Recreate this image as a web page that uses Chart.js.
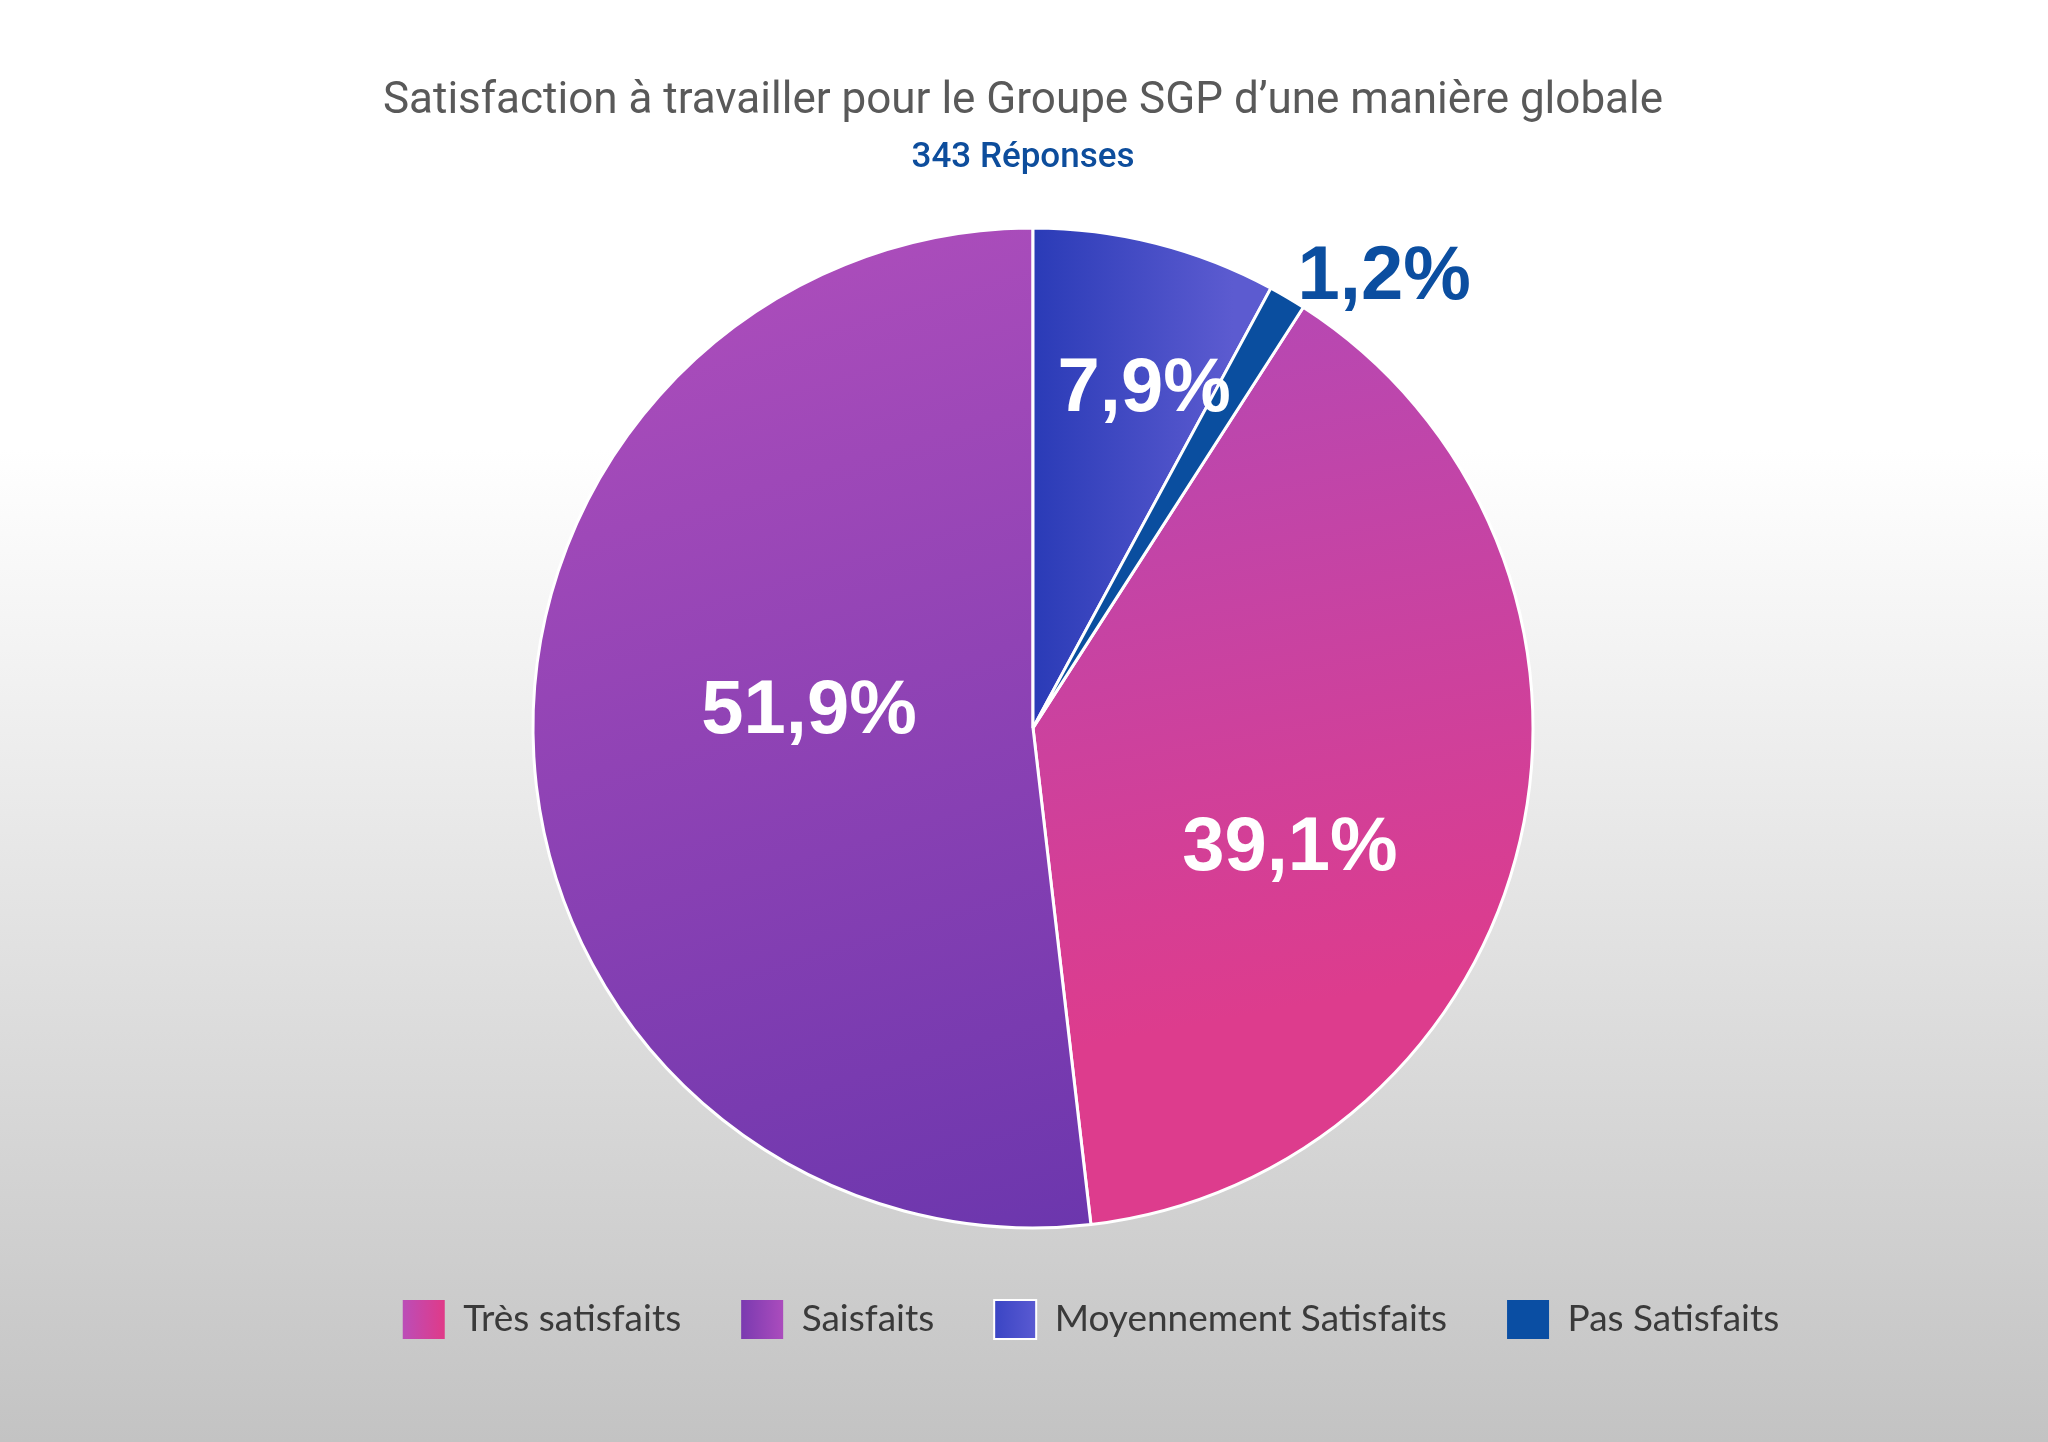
<!DOCTYPE html>
<html lang="fr">
<head>
<meta charset="utf-8">
<title>Satisfaction Groupe SGP</title>
<script src="https://cdn.jsdelivr.net/npm/chart.js@4.4.1/dist/chart.umd.min.js"></script>
<style>
  html, body { margin: 0; padding: 0; }
  body {
    width: 2048px; height: 1442px; overflow: hidden;
    background: linear-gradient(to bottom, #ffffff 0px, #ffffff 450px, #c3c3c3 1442px);
  }
  canvas { display: block; }
</style>
</head>
<body>
<canvas id="myChart" width="2048" height="1442"></canvas>
<script>
// données
var labels = ['Très satisfaits', 'Saisfaits', 'Moyennement Satisfaits', 'Pas Satisfaits'];
var values = [39.1, 51.9, 7.9, 1.2];
var nbReponses = 343;

// style
var R = 500;
var labelColors = ['#ffffff', '#ffffff', '#ffffff', '#0b4ea0'];
var labelPlace = [{r: 0.563, da: 11.1}, {r: 0.45, da: 8.9}, {r: 0.723, da: 3.7}, {r: 1.152, da: 7.0}];
var legendStops = [['#bb4db8', '#e03a88'], ['#7a3ab0', '#ab4cbd'], ['#3a45c4', '#5a5ad2'], ['#0a4ea3', '#0a4ea3']];
var legendBorder = [0, 0, 2, 0];

function fmt(v) { return v.toFixed(1).replace('.', ',') + '%'; }

var total = values.reduce(function(a, b) { return a + b; }, 0);
// la part "Très satisfaits" commence après Moyennement + Pas
var rot = (values[2] + values[3]) / total * 360;

function sliceColor(c) {
  var chart = c.chart, area = chart.chartArea;
  var flat = ['#d0409c', '#9042b2', '#4a4ac6', '#0a4e9f'];
  if (!area) return flat[c.dataIndex];
  var cx = (area.left + area.right) / 2, cy = (area.top + area.bottom) / 2;
  var g;
  switch (c.dataIndex) {
    case 0:
      g = chart.ctx.createLinearGradient(cx, cy - R, cx + 0.3 * R, cy + 0.6 * R);
      g.addColorStop(0, '#b04ab9'); g.addColorStop(1, '#dd3c8d');
      return g;
    case 1:
      g = chart.ctx.createLinearGradient(cx - 0.4 * R, cy - R, cx + 0.2 * R, cy + R);
      g.addColorStop(0, '#ac4dbb'); g.addColorStop(1, '#6b36ad');
      return g;
    case 2:
      g = chart.ctx.createLinearGradient(cx, 0, cx + 0.4 * R, 0);
      g.addColorStop(0, '#2a3bb7'); g.addColorStop(1, '#5c5bd0');
      return g;
    default:
      return '#0a4e9f';
  }
}

var pieLabels = {
  id: 'pieLabels',
  afterLayout: function(chart) {
    // petits décalages horizontaux des blocs de texte
    chart.boxes.forEach(function(b) {
      if (b === chart.legend) { b.left += 58; b.right += 58; }
      else if (b.position === 'top') { b.left -= 10; b.right -= 10; }
    });
  },
  beforeDraw: function(chart) {
    var lg = chart.legend;
    if (!lg || !lg.legendHitBoxes) return;
    lg.legendItems.forEach(function(it, i) {
      var hb = lg.legendHitBoxes[i];
      var g = chart.ctx.createLinearGradient(hb.left, 0, hb.left + 42, 0);
      g.addColorStop(0, legendStops[i][0]);
      g.addColorStop(1, legendStops[i][1]);
      it.fillStyle = g;
    });
  },
  afterDatasetsDraw: function(chart) {
    var ctx = chart.ctx;
    var size = 76;
    ctx.save();
    ctx.font = 'bold ' + size + 'px "Liberation Sans", Arial, sans-serif';
    ctx.textAlign = 'center';
    ctx.textBaseline = 'alphabetic';
    chart.getDatasetMeta(0).data.forEach(function(arc, i) {
      var p = arc.getProps(['x', 'y', 'startAngle', 'endAngle', 'outerRadius'], true);
      var a = (p.startAngle + p.endAngle) / 2 + labelPlace[i].da * Math.PI / 180;
      var r = p.outerRadius * labelPlace[i].r;
      ctx.fillStyle = labelColors[i];
      ctx.fillText(fmt(values[i]), p.x + Math.cos(a) * r, p.y + Math.sin(a) * r + 0.716 * size / 2);
    });
    ctx.restore();
  }
};

var ctx = document.getElementById('myChart').getContext('2d');
var chart = new Chart(ctx, {
  type: 'pie',
  data: {
    labels: labels,
    datasets: [{
      data: values,
      backgroundColor: sliceColor,
      borderColor: '#ffffff',
      borderWidth: 3,
      rotation: rot,
      radius: R
    }]
  },
  options: {
    responsive: false,
    animation: false,
    events: [],
    layout: { padding: { left: 18, right: 0, top: 0, bottom: 93 } },
    plugins: {
      tooltip: { enabled: false },
      title: {
        display: true,
        text: 'Satisfaction à travailler pour le Groupe SGP d’une manière globale',
        color: '#595959',
        font: { family: 'Roboto', size: 44, weight: 'normal' },
        padding: { top: 76, bottom: 8 }
      },
      subtitle: {
        display: true,
        text: nbReponses + ' Réponses',
        color: '#0d4d9c',
        font: { family: 'Roboto', size: 35, weight: '500' },
        padding: { top: 0, bottom: 37 }
      },
      legend: {
        position: 'bottom',
        labels: {
          boxWidth: 42,
          boxHeight: 39,
          padding: 60,
          color: '#3a3a3a',
          font: { family: 'Lato', size: 37 },
          generateLabels: function(chart) {
            var items = Chart.overrides.doughnut.plugins.legend.labels.generateLabels(chart);
            items.forEach(function(it, i) {
              it.lineWidth = legendBorder[i];
              it.strokeStyle = '#ffffff';
            });
            return items;
          }
        }
      }
    }
  },
  plugins: [pieLabels]
});
</script>
</body>
</html>
